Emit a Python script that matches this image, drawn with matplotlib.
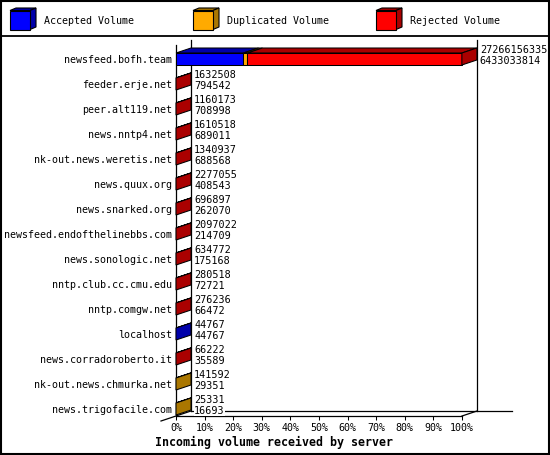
import matplotlib
matplotlib.use('Agg')
import matplotlib.pyplot as plt
from matplotlib.patches import Polygon, Rectangle

servers = ['newsfeed.bofh.team', 'feeder.erje.net', 'peer.alt119.net',
           'news.nntp4.net', 'nk-out.news.weretis.net', 'news.quux.org',
           'news.snarked.org', 'newsfeed.endofthelinebbs.com',
           'news.sonologic.net', 'nntp.club.cc.cmu.edu', 'nntp.comgw.net',
           'localhost', 'news.corradoroberto.it', 'nk-out.news.chmurka.net',
           'news.trigofacile.com']
total = [27266156335, 1632508, 1160173, 1610518, 1340937, 2277055, 696897,
         2097022, 634772, 280518, 276236, 44767, 66222, 141592, 25331]
accepted = [6433033814, 794542, 708998, 689011, 688568, 408543, 262070,
            214709, 175168, 72721, 66472, 44767, 35589, 29351, 16693]
# split of the rest (estimated)
duplicated = [380000000, 0, 0, 0, 0, 0, 0, 0, 0, 0, 0, 0, 0, 112241, 8638]
rejected = [20453122521, 837966, 451175, 921507, 652369, 1868512, 434827,
            1882313, 459604, 207797, 209764, 0, 30633, 0, 0]

categories = ['Accepted Volume', 'Duplicated Volume', 'Rejected Volume']
front_colors = ['#0000ff', '#ffaa00', '#ff0000']
side_colors = ['#0000aa', '#aa7700', '#aa0000']

plt.rcParams['font.family'] = 'DejaVu Sans Mono'
W, H = 550, 455
fig = plt.figure(figsize=(W / 100, H / 100), dpi=100)

# pixel layer: border, legend
bg = fig.add_axes([0, 0, 1, 1])
bg.set_xlim(0, W)
bg.set_ylim(H, 0)
bg.axis('off')
bg.add_patch(Rectangle((0.5, 0.5), W - 1.5, H - 1.5, fill=False, lw=1.5, ec='black'))
bg.plot([0, W], [35.5, 35.5], color='black', lw=1.3)
for k, (lab, fc, sc) in enumerate(zip(categories, front_colors, side_colors)):
    cx = 10 + 183 * k
    bg.add_patch(Polygon([(cx, 10.5), (cx + 20, 10.5), (cx + 26, 8), (cx + 6, 8)],
                         fc=sc, ec='black', lw=0.8))
    bg.add_patch(Polygon([(cx + 20, 10.5), (cx + 26, 8), (cx + 26, 27), (cx + 20, 29.5)],
                         fc=sc, ec='black', lw=0.8))
    bg.add_patch(Rectangle((cx, 10.5), 20, 19, fc=fc, ec='black', lw=0.8))
    bg.text(cx + 34, 20.5, lab, fontsize=7.2, va='center')

# main 3d bar area
x0px, x1px = 176, 462
row0, step = 59, 25
top_px, bot_px = 45, 416
ax = fig.add_axes([x0px / W, 1 - bot_px / H, (x1px - x0px) / W, (bot_px - top_px) / H])
ax.set_xlim(0, 100)
yb = (bot_px - row0) / step
yt = (top_px - row0) / step
ax.set_ylim(yb, yt)
ax.patch.set_alpha(0)
for s in ax.spines.values():
    s.set_visible(False)

px = 100 / (x1px - x0px)
DX = 15 * px
DY = -5 / step
h = 6 / step

frame = [([0, 0], [yb, yt]),
         ([DX, DX], [yb + DY, yt + DY]),
         ([100 + DX, 100 + DX], [yb + DY, yt + DY]),
         ([0, 100], [yb, yb]),
         ([100, 100 + DX], [yb, yb + DY]),
         ([-DX, DX], [yb - DY, yb + DY]),
         ([DX, 100 + DX + 35 * px], [yb + DY, yb + DY])]
for xs, ys in frame:
    ax.plot(xs, ys, color='black', lw=0.9, clip_on=False, zorder=1)

grand = sum(total)
for i in range(len(servers)):
    segs = [accepted[i], duplicated[i], rejected[i]]
    left = 0
    last = 0
    for k, v in enumerate(segs):
        if v <= 0:
            continue
        w = 100 * v / grand
        ax.add_patch(Polygon([(left, i - h), (left + w, i - h), (left + w + DX, i - h + DY),
                              (left + DX, i - h + DY)], fc=side_colors[k], ec='black',
                             lw=0.75, clip_on=False, zorder=2))
        ax.add_patch(Rectangle((left, i - h), w, 2 * h, fc=front_colors[k], ec='black',
                               lw=0.75, clip_on=False, zorder=2))
        left += w
        last = k
    ax.add_patch(Polygon([(left, i - h), (left, i + h), (left + DX, i + h + DY),
                          (left + DX, i - h + DY)], fc=side_colors[last], ec='black',
                         lw=0.75, clip_on=False, zorder=2))
    tx = left + DX + 3 * px
    ax.text(tx, i - 9 / step, str(total[i]), fontsize=7.3, va='center', zorder=3,
            bbox=dict(fc='white', ec='none', pad=0))
    ax.text(tx, i + 2 / step, str(accepted[i]), fontsize=7.3, va='center', zorder=3,
            bbox=dict(fc='white', ec='none', pad=0))

ticks = list(range(0, 101, 10))
ax.set_xticks(ticks, labels=[f'{t}%' for t in ticks])
ax.tick_params(axis='x', length=3, width=0.75, pad=2, labelsize=7.2)
ax.set_yticks(range(len(servers)), labels=servers)
ax.tick_params(axis='y', length=0, pad=2.7, labelsize=7.2)

fig.text(274 / W, 1 - 442 / H, 'Incoming volume received by server', ha='center',
         va='center', fontsize=8.4, fontweight='bold')

fig.savefig('out.png', dpi=100)
